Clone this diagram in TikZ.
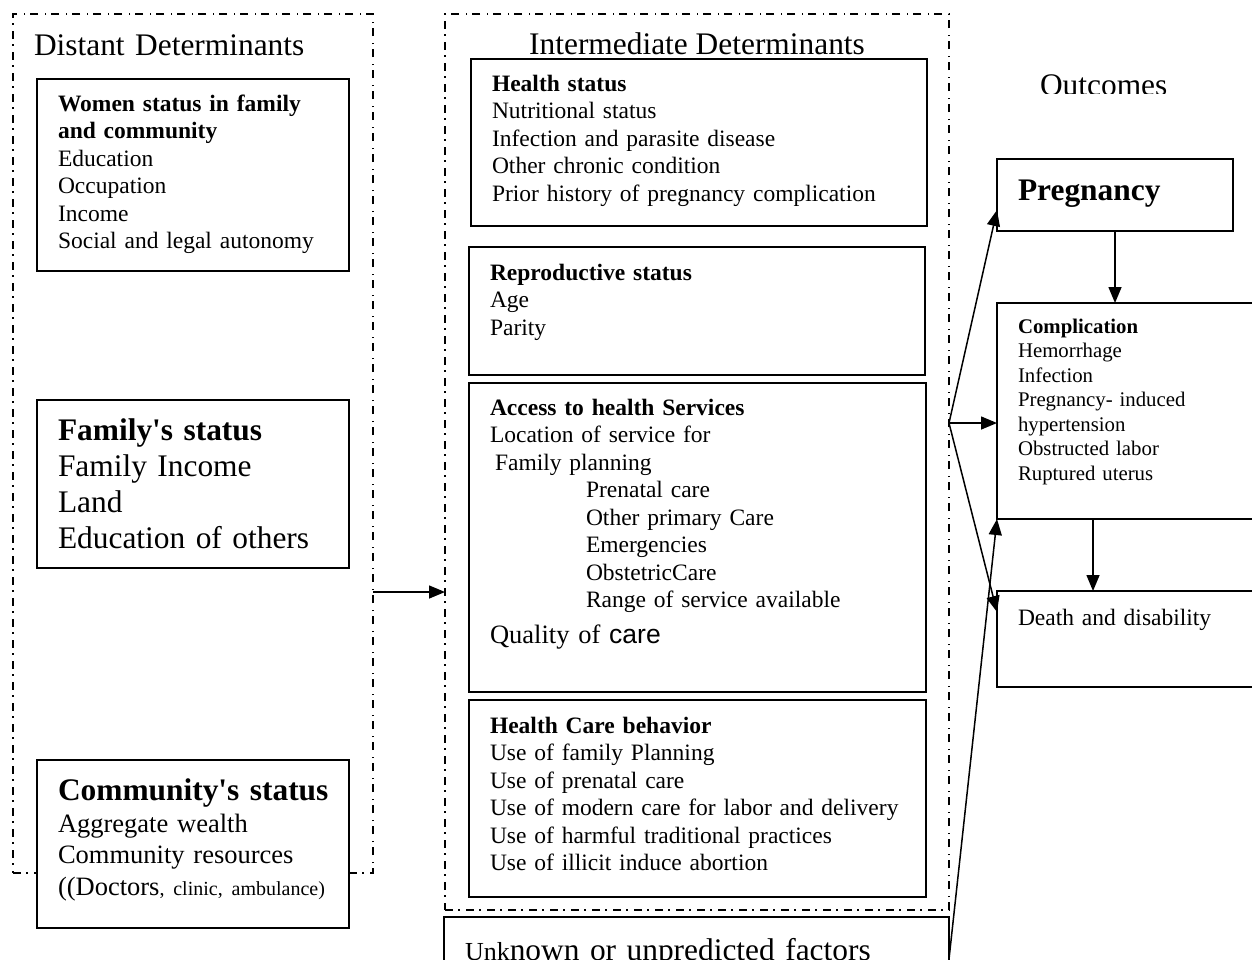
\documentclass[tikz,border=0pt]{standalone}
\usepackage{fontspec}
\setmainfont{Liberation Serif}
\setsansfont{Liberation Sans}
\usetikzlibrary{arrows.meta}
\begin{document}
\begin{tikzpicture}[x=1pt,y=-1pt,
  frame/.style={draw, line width=1.5pt, dash pattern=on 8pt off 5pt on 1.5pt off 6.5pt,
                inner sep=0pt, outer sep=0pt, anchor=north west},
  box/.style={draw, line width=1.8pt, fill=white, inner sep=0pt, outer sep=0pt, anchor=north west},
  txt/.style={anchor=base west, inner sep=0pt, outer sep=0pt, align=left, text width=480pt},
  f21/.style={font=\fontsize{20.8}{24.5}\selectfont},
  f24/.style={font=\fontsize{23.5}{27.5}\selectfont},
  f27/.style={font=\fontsize{26.5}{31.5}\selectfont},
  f32/.style={font=\fontsize{31.4}{36}\selectfont},
  arr/.style={line width=1.5pt, -{Triangle[length=16pt,width=13pt]}}
]
\useasboundingbox (0,0) rectangle (1252,959);
\clip (0,0) rectangle (1252,959);

% group frames
\node[frame, minimum width=360pt, minimum height=859pt] (distant) at (13,14) {};
\node[frame, minimum width=504pt, minimum height=896pt] (inter) at (445,14) {};

% distant determinants
\node[txt, f32] (distanttitle) at (34,55) {Distant Determinants};
\node[box, minimum width=312pt, minimum height=192pt] (women) at (37,79) {};
\node[txt, f24] (womentext) at (58,111) {\textbf{Women status in family}\\ \textbf{and community}\\
  Education\\ Occupation\\ Income\\ Social and legal autonomy};
\node[box, minimum width=312pt, minimum height=168pt] (family) at (37,400) {};
\node[txt, f32] (familytext) at (58,440) {\textbf{Family\textquotesingle s status}\\ Family Income\\ Land\\ Education of others};
\node[box, minimum width=312pt, minimum height=168pt] (community) at (37,760) {};
\node[txt, f32] (communityhead) at (58,800) {\textbf{Community\textquotesingle s status}};
\node[txt, f27] (communitytext) at (58,832) {Aggregate wealth\\ Community resources\\
  ((Doctors{\fontsize{20}{23}\selectfont, clinic, ambulance)}};

% intermediate determinants
\node[anchor=base, inner sep=0pt, f32] (intertitle) at (697,54) {Intermediate Determinants};
\node[box, minimum width=456pt, minimum height=167pt] (health) at (471,59) {};
\node[txt, f24] (healthtext) at (492,91) {\textbf{Health status}\\ Nutritional status\\
  Infection and parasite disease\\ Other chronic condition\\ Prior history of pregnancy complication};
\node[box, minimum width=456pt, minimum height=128pt] (repro) at (469,247) {};
\node[txt, f24] (reprotext) at (490,280) {\textbf{Reproductive status}\\ Age\\ Parity};
\node[box, minimum width=457pt, minimum height=309pt] (access) at (469,383) {};
\node[txt, f24] (accesstext) at (490,415) {\textbf{Access to health Services}\\ Location of service for\\
  \hspace*{5pt}Family planning\\
  \hspace*{96pt}Prenatal care\\ \hspace*{96pt}Other primary Care\\ \hspace*{96pt}Emergencies\\
  \hspace*{96pt}ObstetricCare\\ \hspace*{96pt}Range of service available};
\node[txt, f27] (quality) at (490,643) {Quality of {\sffamily care}};
\node[box, minimum width=457pt, minimum height=197pt] (behav) at (469,700) {};
\node[txt, f24] (behavtext) at (490,733) {\textbf{Health Care behavior}\\ Use of family Planning\\
  Use of prenatal care\\ Use of modern care for labor and delivery\\
  Use of harmful traditional practices\\ Use of illicit induce abortion};
\node[box, minimum width=505pt, minimum height=84pt] (unknown) at (444,917) {};
\node[txt, f32] (unknowntext) at (465,960) {{\fontsize{26}{30}\selectfont Unk}nown or unpredicted factors};

% outcomes
\begin{scope}
  \clip (1000,60) rectangle (1220,93);
  \node[txt, f32] (outcomes) at (1040,95) {Outcomes};
\end{scope}
\node[box, minimum width=236pt, minimum height=72pt] (preg) at (997,159) {};
\node[txt, f32] (pregtext) at (1018,200) {\textbf{Pregnancy}};
\node[box, minimum width=270pt, minimum height=216pt] (comp) at (997,303) {};
\node[txt, f21] (comptext) at (1018,333) {\textbf{Complication}\\ Hemorrhage\\ Infection\\
  Pregnancy- induced\\ hypertension\\ Obstructed labor\\ Ruptured uterus};
\node[box, minimum width=270pt, minimum height=96pt] (death) at (997,591) {};
\node[txt, f24] (deathtext) at (1018,625) {Death and disability};

% connectors
\coordinate (fan) at (inter.east |- 0,423);
\draw[arr] (distant.east |- 0,592) -- (inter.west |- 0,592);
\draw[arr] (fan) -- (preg.west |- 0,210);
\draw[arr] (fan) -- (comp.west |- fan);
\draw[arr] (fan) -- (death.west |- 0,612);
\draw[arr] (unknown.east) -- (comp.south west);
\draw[arr] (preg.south) -- (preg.south |- comp.north);
\draw[arr] (comp.south -| 1093,0) -- (death.north -| 1093,0);
\end{tikzpicture}
\end{document}
